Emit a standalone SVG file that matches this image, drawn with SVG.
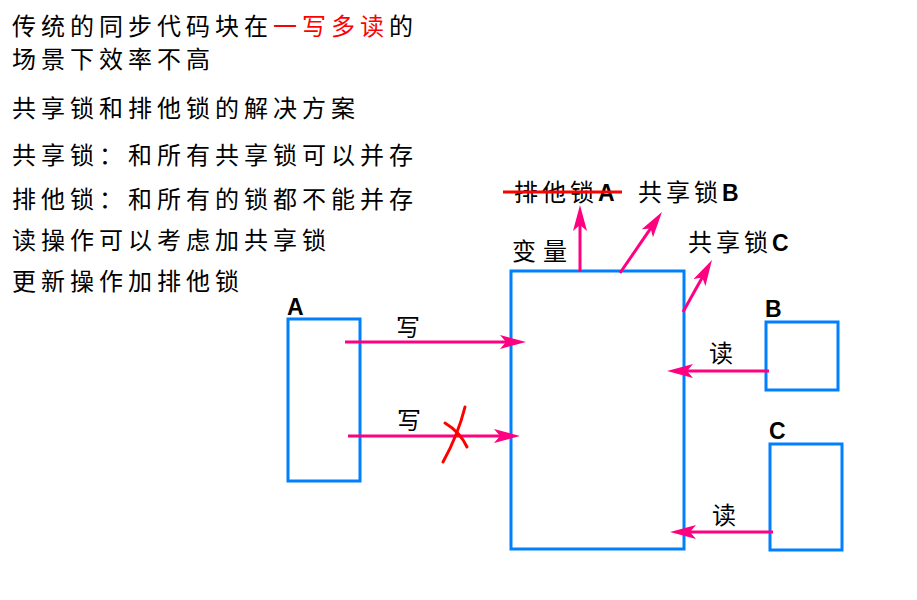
<svg xmlns="http://www.w3.org/2000/svg" width="917" height="600" viewBox="0 0 917 600">
<defs>
<style>
.t{font-family:"Noto Sans CJK SC","Liberation Sans",sans-serif;font-size:24px;fill:#000;letter-spacing:5px}
.lb{font-family:"Noto Sans CJK SC","Liberation Sans",sans-serif;font-size:24px;fill:#000}
.L{font-family:"Liberation Sans",Arial,sans-serif;font-weight:bold;font-size:23px;fill:#000}
.box{fill:none;stroke:#0080FF;stroke-width:3}
.arr{stroke:#FF0080;stroke-width:3;fill:none;marker-end:url(#ah)}
.red{stroke:#FF0000;stroke-width:3;fill:none;stroke-linecap:round}
</style>
<marker id="ah" viewBox="0 0 26 14" refX="16" refY="7" markerWidth="26" markerHeight="14" orient="auto" markerUnits="userSpaceOnUse">
<path d="M0,0 L26,7 L0,14 L6,7 Z" fill="#FF0080"/>
</marker>
</defs>
<rect width="917" height="600" fill="#fff"/>
<g id="notes">
<text class="t" x="12" y="35">传统的同步代码块在<tspan fill="#FF0000">一写多读</tspan>的</text>
<text class="t" x="12" y="68">场景下效率不高</text>
<text class="t" x="12" y="117">共享锁和排他锁的解决方案</text>
<text class="t" x="12" y="164">共享锁：和所有共享锁可以并存</text>
<text class="t" x="12" y="208">排他锁：和所有的锁都不能并存</text>
<text class="t" x="12" y="249">读操作可以考虑加共享锁</text>
<text class="t" x="12" y="290">更新操作加排他锁</text>
</g>
<g id="var">
<rect class="box" x="511" y="271" width="173" height="278"/>
<text class="t" x="512" y="260" style="letter-spacing:7px">变量</text>
</g>
<g id="nodeA">
<rect class="box" x="288" y="319" width="72" height="162"/>
<text class="L" x="287" y="315">A</text>
</g>
<g id="nodeB">
<rect class="box" x="766" y="322" width="72" height="68"/>
<text class="L" x="765" y="317">B</text>
</g>
<g id="nodeC">
<rect class="box" x="770" y="444" width="72" height="106"/>
<text class="L" x="769" y="439">C</text>
</g>
<g id="lockA">
<text x="514" y="201"><tspan class="t" style="letter-spacing:4px">排他锁</tspan><tspan class="L">A</tspan></text>
<line class="red" x1="503" y1="192" x2="622" y2="192" style="stroke-linecap:butt"/>
</g>
<g id="lockB">
<text x="638" y="201"><tspan class="t" style="letter-spacing:4px">共享锁</tspan><tspan class="L">B</tspan></text>
</g>
<g id="lockC">
<text x="688" y="251"><tspan class="t" style="letter-spacing:4px">共享锁</tspan><tspan class="L">C</tspan></text>
</g>
<g id="connectors">
<line class="arr" x1="580" y1="272" x2="580" y2="215"/>
<line class="arr" x1="620" y1="273" x2="656.3" y2="220.2"/>
<line class="arr" x1="683" y1="312" x2="707.1" y2="268.7"/>
<line class="arr" x1="345" y1="342" x2="516" y2="342"/>
<line class="arr" x1="348" y1="436" x2="510" y2="436"/>
<line class="arr" x1="769" y1="371" x2="677" y2="371"/>
<line class="arr" x1="773" y1="532" x2="680" y2="532"/>
<text class="lb" x="396" y="336">写</text>
<text class="lb" x="397" y="429">写</text>
<text class="lb" x="709" y="362">读</text>
<text class="lb" x="712" y="524">读</text>
<path class="red" d="M465,407 Q458,435 443,462"/>
<path class="red" d="M445,423 Q460,432 467,447"/>
</g>
</svg>
